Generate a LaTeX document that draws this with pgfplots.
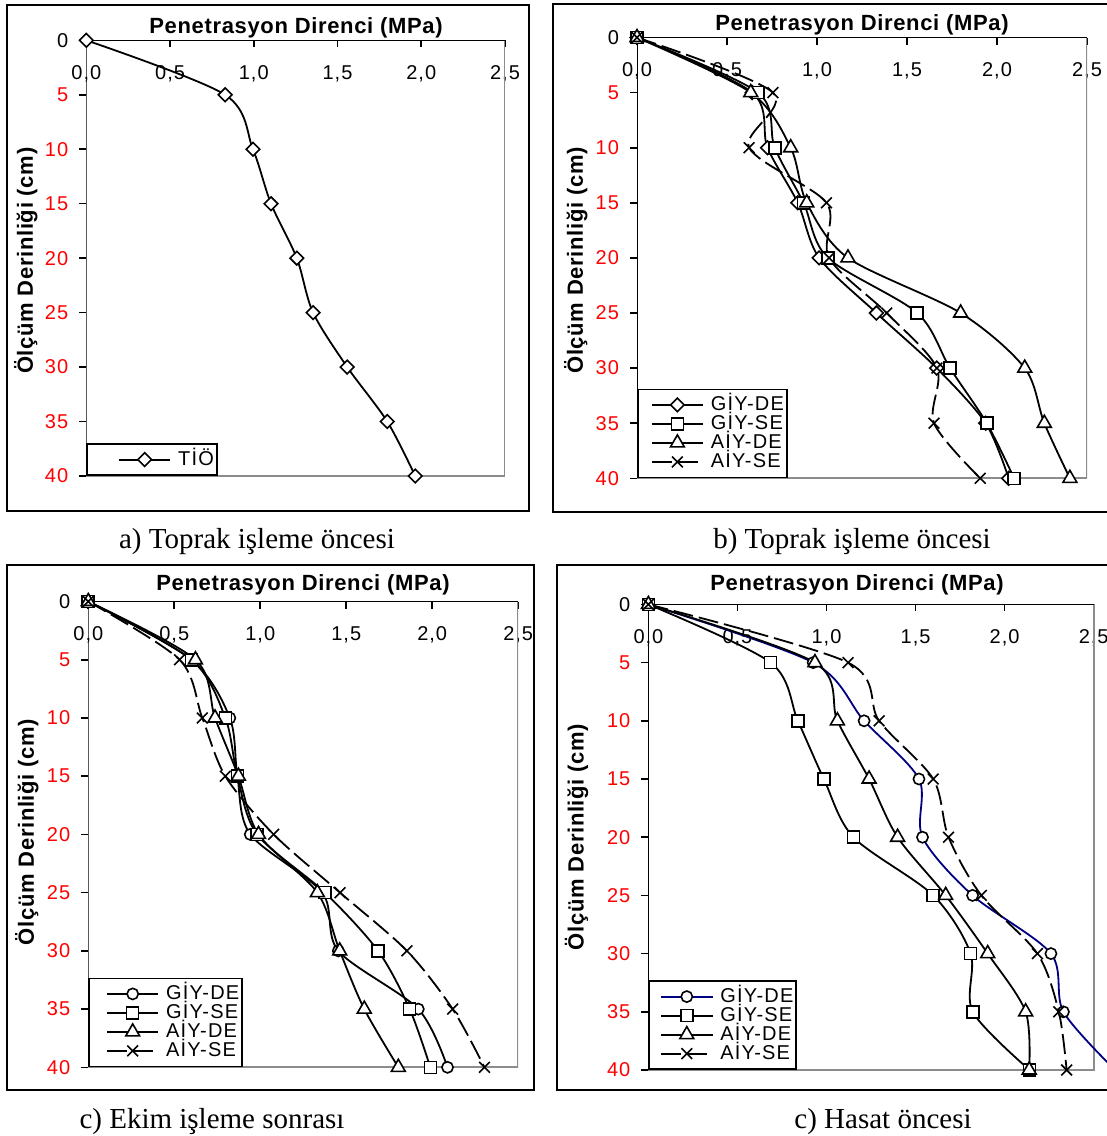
\documentclass[border=0pt]{standalone}
\usepackage{fontspec}
\setmainfont{Liberation Sans}
\newfontfamily\capfont{Liberation Serif}
\usepackage{pgfplots}
\pgfplotsset{compat=1.18}
\definecolor{tickred}{HTML}{FF0000}
\definecolor{navyline}{HTML}{000080}
\definecolor{edgegray}{HTML}{8C8C8C}

\pgfplotsset{
  panel/.style={
    scale only axis, anchor=north west,
    xmin=0, xmax=2.5, ymin=0, ymax=40, y dir=reverse,
    axis line style={draw=none},
    xtick={0,0.5,1,1.5,2,2.5},
    xticklabels={{0,0},{0,5},{1,0},{1,5},{2,0},{2,5}},
    ytick={0,5,10,15,20,25,30,35,40},
    yticklabels={\textcolor{black}{0},5,10,15,20,25,30,35,40},
    xtick pos=right, xticklabel pos=right, ytick pos=left,
    xtick align=inside, ytick align=outside,
    major tick length=3.5pt,
    tick style={black, line width=0.8pt},
    tick label style={font=\fontsize{10}{12}\selectfont\addfontfeature{LetterSpace=5}},
    xticklabel style={anchor=north, yshift=-9pt},
    yticklabel style={text=tickred, anchor=east, xshift=-2pt},
    every axis plot/.append style={line width=0.9pt, black, smooth},
    legend cell align=left,
    legend style={at={(axis cs:0,40)}, anchor=south west, draw=black,
      line width=0.9pt, inner xsep=1.5pt, inner ysep=3pt,
      font=\fontsize{10}{12}\selectfont\addfontfeature{LetterSpace=6},
      nodes={inner sep=0pt, text height=7.5pt, text depth=2pt}},
  },
  limg/.style={legend image code/.code={
    \path (-#1,0pt);
    \draw[mark repeat=2, mark phase=2, ##1] plot coordinates {(0pt,0pt) (12.8pt,0pt) (25.6pt,0pt)};
    \path (29.1pt,0pt);}},
  sDia/.style={mark=square*, mark size=2.4pt,
    mark options={solid, fill=white, draw=black, rotate=45, line width=0.8pt}},
  sSq/.style={mark=square*, mark size=3pt,
    mark options={solid, fill=white, draw=black, line width=0.8pt}},
  sTri/.style={mark=triangle*, mark size=4pt,
    mark options={solid, fill=white, draw=black, line width=0.8pt}},
  sCirc/.style={mark=*, mark size=2.8pt,
    mark options={solid, fill=white, draw=black, line width=0.8pt}},
  sX/.style={mark=x, mark size=3.8pt, dash pattern=on 10pt off 3pt,
    mark options={solid, draw=black, line width=0.8pt}},
}

\newcommand{\edges}{%
  \draw[edgegray, line width=0.9pt] (axis cs:2.5,0) -- (axis cs:2.5,40) -- (axis cs:0,40);
  \draw[black, line width=0.9pt] (axis cs:2.5,0) -- (axis cs:0,0) -- (axis cs:0,40);}

\begin{document}
\begin{tikzpicture}
\tikzset{ttl/.style={font=\bfseries\fontsize{11}{13}\selectfont\addfontfeature{LetterSpace=3}},
  capt/.style={font=\capfont\fontsize{14.5}{17}\selectfont, anchor=base}}

% frames
\draw[line width=1pt] (3.5pt,-2.5pt) rectangle (264.5pt,-255.5pt);
\draw[line width=1pt] (276.5pt,-2pt) rectangle (556pt,-256pt);
\draw[line width=1pt] (3.5pt,-282.5pt) rectangle (267pt,-545pt);
\draw[line width=1pt] (278.5pt,-282.5pt) rectangle (556pt,-545pt);

% a) Toprak isleme oncesi
\begin{axis}[panel, at={(43.15pt,-20.15pt)}, width=209.35pt, height=217.85pt, limg=14pt]
\edges
\addplot[sDia] coordinates {(0,0)(0.829,5)(0.995,10)(1.103,15)(1.257,20)(1.354,25)(1.558,30)(1.797,35)(1.964,40)};
\addlegendentry{TİÖ\hspace{10pt}}
\end{axis}

% b) Toprak isleme oncesi
\begin{axis}[panel, at={(318.5pt,-18.75pt)}, width=225pt, height=220.4pt, limg=5pt]
\edges
\addplot[sDia] coordinates {(0,0)(0.64,5)(0.725,10)(0.893,15)(1.012,20)(1.33,25)(1.665,30)(1.937,35)(2.065,40)};
\addlegendentry{GİY-DE}
\addplot[sSq] coordinates {(0,0)(0.672,5)(0.765,10)(0.925,15)(1.06,20)(1.557,25)(1.739,30)(1.943,35)(2.095,40)};
\addlegendentry{GİY-SE}
\addplot[sTri] coordinates {(0,0)(0.632,5)(0.854,10)(0.943,15)(1.172,20)(1.798,25)(2.154,30)(2.263,35)(2.405,40)};
\addlegendentry{AİY-DE}
\addplot[sX] coordinates {(0,0)(0.755,5)(0.623,10)(1.053,15)(1.067,20)(1.387,25)(1.666,30)(1.650,35)(1.907,40)};
\addlegendentry{AİY-SE}
\end{axis}

% c) Ekim isleme sonrasi
\begin{axis}[panel, at={(44.15pt,-300.75pt)}, width=214.95pt, height=232.9pt, limg=7pt]
\edges
\addplot[sCirc] coordinates {(0,0)(0.60,5)(0.823,10)(0.867,15)(0.942,20)(1.36,25)(1.454,30)(1.919,35)(2.089,40)};
\addlegendentry{GİY-DE}
\addplot[sSq] coordinates {(0,0)(0.60,5)(0.797,10)(0.867,15)(0.982,20)(1.376,25)(1.685,30)(1.869,35)(1.989,40)};
\addlegendentry{GİY-SE}
\addplot[sTri] coordinates {(0,0)(0.623,5)(0.737,10)(0.873,15)(0.99,20)(1.332,25)(1.462,30)(1.605,35)(1.803,40)};
\addlegendentry{AİY-DE}
\addplot[sX] coordinates {(0,0)(0.531,5)(0.663,10)(0.797,15)(1.078,20)(1.464,25)(1.853,30)(2.119,35)(2.304,40)};
\addlegendentry{AİY-SE}
\end{axis}

% d) Hasat oncesi
\begin{axis}[panel, at={(324.2pt,-302.2pt)}, width=222.65pt, height=232.8pt, limg=4pt, clip=false]
\edges
\addplot[sCirc, navyline] coordinates {(0,0)(0.925,5)(1.211,10)(1.519,15)(1.539,20)(1.82,25)(2.26,30)(2.33,35)(2.62,40)};
\addlegendentry{GİY-DE}
\addplot[sSq] coordinates {(0,0)(0.686,5)(0.839,10)(0.985,15)(1.151,20)(1.599,25)(1.809,30)(1.821,35)(2.14,40)};
\addlegendentry{GİY-SE}
\addplot[sTri] coordinates {(0,0)(0.935,5)(1.061,10)(1.239,15)(1.399,20)(1.669,25)(1.905,30)(2.118,35)(2.138,40)};
\addlegendentry{AİY-DE}
\addplot[sX] coordinates {(0,0)(1.121,5)(1.295,10)(1.599,15)(1.685,20)(1.869,25)(2.184,30)(2.304,35)(2.348,40)};
\addlegendentry{AİY-SE}
\end{axis}

% titles, axis labels, captions
\node[ttl] at (148pt,-14pt) {Penetrasyon Direnci (MPa)};
\node[ttl] at (431pt,-12.5pt) {Penetrasyon Direnci (MPa)};
\node[ttl] at (151.5pt,-292.5pt) {Penetrasyon Direnci (MPa)};
\node[ttl] at (428.5pt,-292.5pt) {Penetrasyon Direnci (MPa)};
\node[ttl, rotate=90] at (12.9pt,-130.4pt) {Ölçüm Derinliği (cm)};
\node[ttl, rotate=90] at (287.9pt,-130.25pt) {Ölçüm Derinliği (cm)};
\node[ttl, rotate=90] at (13.35pt,-416pt) {Ölçüm Derinliği (cm)};
\node[ttl, rotate=90] at (288.25pt,-418.5pt) {Ölçüm Derinliği (cm)};
\node[capt] at (128.5pt,-274pt) {a) Toprak işleme öncesi};
\node[capt] at (426pt,-274pt) {b) Toprak işleme öncesi};
\node[capt] at (106pt,-564pt) {c) Ekim işleme sonrası};
\node[capt] at (441.5pt,-564pt) {c) Hasat öncesi};

\pgfresetboundingbox
\path[use as bounding box] (0pt,0pt) rectangle (553.5pt,-568pt);
\end{tikzpicture}
\end{document}
